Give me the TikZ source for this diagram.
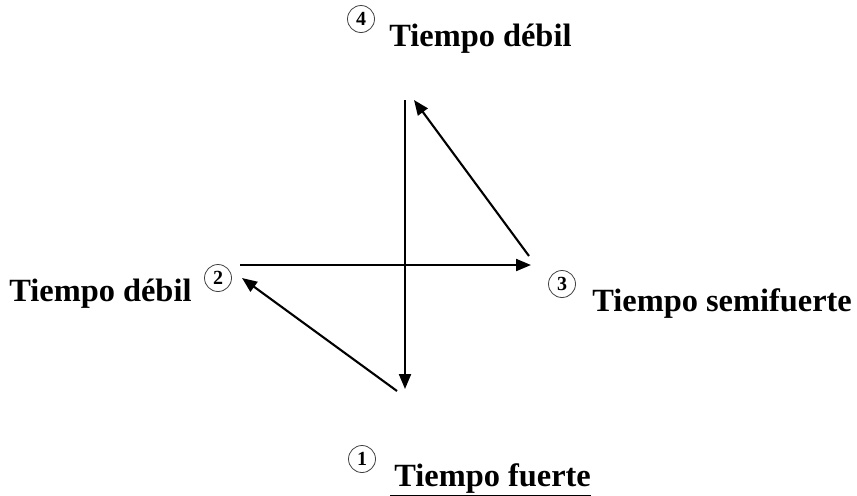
\documentclass[tikz,border=0pt]{standalone}
\usepackage{fontspec}
\setmainfont{Liberation Serif}
\usetikzlibrary{arrows.meta}
\usetikzlibrary{positioning}

\begin{document}
\begin{tikzpicture}[x=0.5pt,y=-0.5pt,
    beat/.style={draw,circle,thin,black!75,text=black,inner sep=0pt,minimum size=13.5pt,
      font=\fontsize{10}{11}\selectfont\bfseries},
    tiempo/.style={anchor=base west,inner sep=0pt,font=\fontsize{16.2}{19}\selectfont\bfseries},
    stroke/.style={line width=1.05pt,-{Triangle[length=7.5pt,width=6pt]}}]
    \useasboundingbox (0,0) rectangle (857,495);
    % path of the baton
    \coordinate (arriba) at (405,100);
    \coordinate (abajo) at (405,389);
    \coordinate (salida) at (397,391);
    \coordinate (izq) at (242,278);
    \coordinate (ini) at (240,265);
    \coordinate (der) at (531,265);
    \coordinate (vuelta) at (529,256);
    \coordinate (cima) at (414,100);
    \draw[stroke] (arriba) -- (abajo);
    \draw[stroke] (salida) -- (izq);
    \draw[stroke] (ini) -- (der);
    \draw[stroke] (vuelta) -- (cima);
    % beats
    \node[beat] (n4) at (361,19) {4};
    \node[tiempo] (t4) at (389,46) {Tiempo débil};
    \node[beat] (n2) at (218,278) {2};
    \node[tiempo] (t2) at (9,301) {Tiempo débil};
    \node[beat] (n3) at (562,284) {3};
    \node[tiempo] (t3) at (592,311) {Tiempo semifuerte};
    \node[beat] (n1) at (362,459) {1};
    \node[tiempo] (t1) at (390,486) {\underline{\hspace{2pt}Tiempo fuerte}};
  \end{tikzpicture}
\end{document}
